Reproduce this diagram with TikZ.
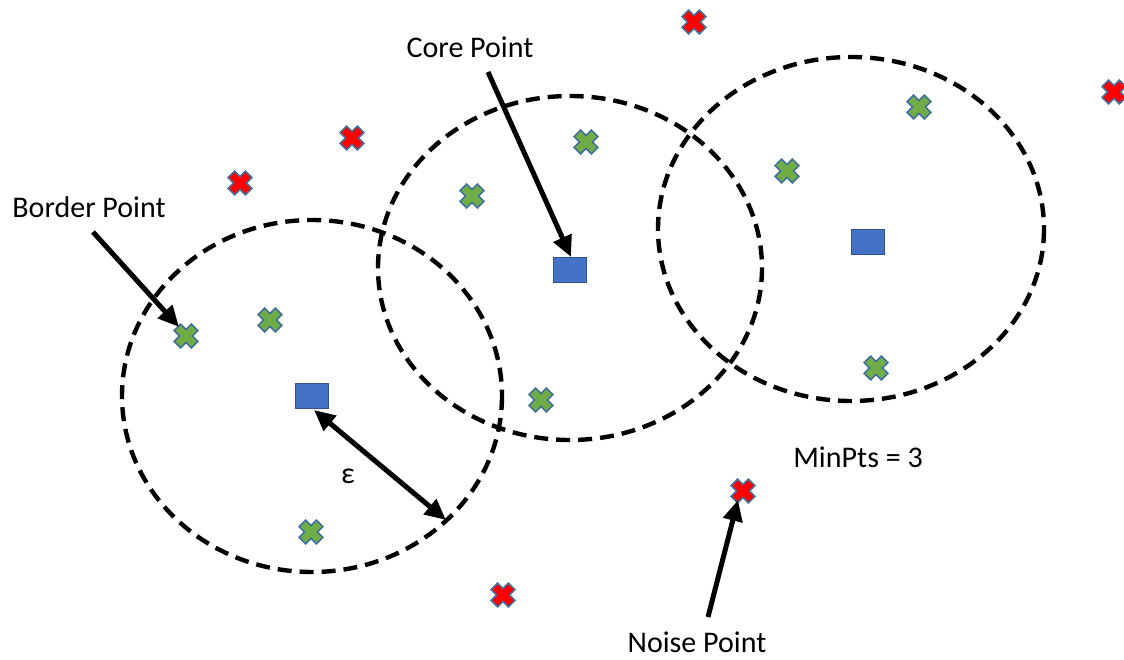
\documentclass[tikz,border=0pt]{standalone}
\usepackage{fontspec}
\setmainfont{Carlito}
\usetikzlibrary{arrows.meta}
\definecolor{corefill}{HTML}{4472C4}
\definecolor{coreline}{HTML}{2F528F}
\definecolor{greenx}{HTML}{70AD47}
\definecolor{redx}{HTML}{FF0000}
\definecolor{xline}{HTML}{41719C}
\tikzset{
  region/.style={draw=black, line width=4.4pt, dash pattern=on 14pt off 8pt},
  corebox/.style={draw=coreline, line width=1.8pt, fill=corefill, minimum width=33pt, minimum height=25pt, inner sep=0pt},
  pointer/.style={draw=black, line width=5pt, -{Triangle[length=21pt,width=19pt]}},
  twoway/.style={draw=black, line width=5pt, {Triangle[length=21pt,width=19pt]}-{Triangle[length=21pt,width=19pt]}},
  lbl/.style={font=\fontsize{30}{34}\selectfont, inner sep=0pt},
  pics/xmark/.style={code={
    \fill[#1, draw=xline, line width=1.6pt, rotate=45]
      (4.6,12.2) -- (4.6,4.6) -- (12.2,4.6) -- (12.2,-4.6) -- (4.6,-4.6) -- (4.6,-12.2)
      -- (-4.6,-12.2) -- (-4.6,-4.6) -- (-12.2,-4.6) -- (-12.2,4.6) -- (-4.6,4.6) -- (-4.6,12.2) -- cycle;
  }}
}
\begin{document}
\begin{tikzpicture}[x=1pt,y=-1pt]
\useasboundingbox (0,0) rectangle (1124,660);
% regions
\draw[region] (312,396) ellipse [x radius=190, y radius=176];
\draw[region] (570,268) ellipse [x radius=192, y radius=172];
\draw[region] (851,229) ellipse [x radius=193, y radius=172];
% core points
\node[corebox] (c1) at (312,396) {};
\node[corebox] (c2) at (570,270) {};
\node[corebox] (c3) at (868,242) {};
% border points (green)
\coordinate (g1) at (186,336);
\coordinate (g2) at (270,320);
\coordinate (g3) at (472,196);
\coordinate (g4) at (586,142);
\coordinate (g5) at (541,400);
\coordinate (g6) at (311,532);
\coordinate (g7) at (787,171);
\coordinate (g8) at (919,107);
\coordinate (g9) at (876,368);
\foreach \n in {g1,g2,g3,g4,g5,g6,g7,g8,g9}{ \pic at (\n) {xmark=greenx}; }
% noise points (red)
\coordinate (r1) at (694,22);
\coordinate (r2) at (352,138);
\coordinate (r3) at (240,183);
\coordinate (r4) at (1114,92);
\coordinate (r5) at (743,491);
\coordinate (r6) at (503,595);
\foreach \n in {r1,r2,r3,r4,r5,r6}{ \pic at (\n) {xmark=redx}; }
% labels
\node[lbl] (tborder) at (89,207) {Border Point};
\node[lbl] (tcore) at (470,47) {Core Point};
\node[lbl] (tmin) at (858,457) {MinPts = 3};
\node[lbl] (tnoise) at (697,642) {Noise Point};
\node[lbl] (teps) at (348,476) {ε};
% arrows
\coordinate (bstart) at (93,232);
\coordinate (btip) at (179,327);
\draw[pointer] (bstart) -- (btip);
\coordinate (cstart) at (488,72);
\coordinate (ctip) at (571,257);
\draw[pointer] (cstart) -- (ctip);
\coordinate (nstart) at (708,617);
\coordinate (ntip) at (738,500);
\draw[pointer] (nstart) -- (ntip);
\coordinate (etip1) at (314,410);
\coordinate (etip2) at (446,520);
\draw[twoway] (etip1) -- (etip2);
\end{tikzpicture}
\end{document}
